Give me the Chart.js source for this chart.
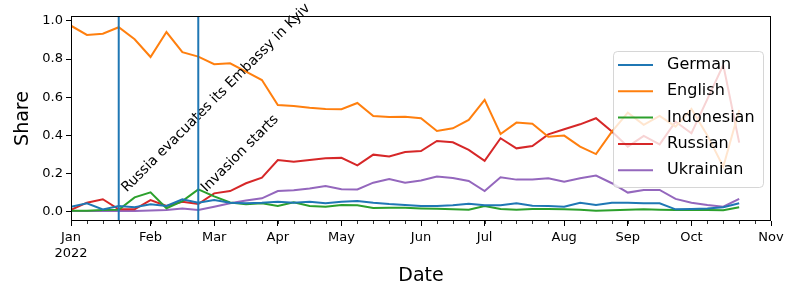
<!DOCTYPE html>
<html>
<head>
<meta charset="utf-8">
<script src="https://cdn.jsdelivr.net/npm/chart.js@4.4.0/dist/chart.umd.min.js"></script>
<style>
  html, body { margin: 0; padding: 0; background: #fff; }
</style>
</head>
<body>
<canvas id="chart" width="800" height="300"></canvas>
<script>
// weekly periods, week 0 is the one holding Jan 1 2022 (Mon 2021-12-27)
const firstWeek = '2021-12-27'
const axisEnd = '2022-11-01'

const monthStarts = ['2022-01-01', '2022-02-01', '2022-03-01', '2022-04-01', '2022-05-01', '2022-06-01',
  '2022-07-01', '2022-08-01', '2022-09-01', '2022-10-01', '2022-11-01']
const monthLabels = [['Jan', '2022'], 'Feb', 'Mar', 'Apr', 'May', 'Jun', 'Jul', 'Aug', 'Sep', 'Oct', 'Nov']
const yTicks = [0, 0.2, 0.4, 0.6, 0.8, 1.0]

const german = [0.026, 0.044, 0.012, 0.030, 0.023, 0.039, 0.030, 0.065, 0.047, 0.061,
  0.047, 0.044, 0.047, 0.052, 0.047, 0.052, 0.044, 0.052, 0.056, 0.047,
  0.040, 0.035, 0.030, 0.030, 0.033, 0.042, 0.033, 0.033, 0.044, 0.031,
  0.030, 0.026, 0.047, 0.035, 0.047, 0.047, 0.044, 0.044, 0.012, 0.014,
  0.016, 0.023, 0.044]
const english = [0.975, 0.927, 0.933, 0.967, 0.904, 0.811, 0.942, 0.836, 0.813, 0.773,
  0.778, 0.734, 0.690, 0.559, 0.554, 0.545, 0.538, 0.537, 0.570, 0.502,
  0.497, 0.498, 0.490, 0.423, 0.437, 0.481, 0.586, 0.407, 0.467, 0.461,
  0.393, 0.399, 0.341, 0.302, 0.420, 0.519, 0.455, 0.502, 0.446, 0.539,
  0.400, 0.236, 0.533]
const indonesian = [0.005, 0.005, 0.009, 0.010, 0.075, 0.101, 0.018, 0.055, 0.117, 0.080,
  0.048, 0.039, 0.044, 0.030, 0.049, 0.030, 0.026, 0.035, 0.033, 0.019,
  0.020, 0.020, 0.017, 0.015, 0.012, 0.010, 0.030, 0.014, 0.010, 0.014,
  0.014, 0.012, 0.010, 0.005, 0.007, 0.010, 0.012, 0.010, 0.009, 0.009,
  0.009, 0.008, 0.023]
const russian = [0.009, 0.047, 0.065, 0.012, 0.012, 0.061, 0.030, 0.052, 0.040, 0.096,
  0.108, 0.149, 0.178, 0.271, 0.262, 0.271, 0.280, 0.282, 0.243, 0.299,
  0.289, 0.313, 0.318, 0.371, 0.364, 0.324, 0.266, 0.385, 0.332, 0.344,
  0.405, 0.432, 0.458, 0.490, 0.420, 0.341, 0.397, 0.353, 0.472, 0.411,
  0.590, 0.769, 0.362]
const ukrainian = [0.004, 0.004, 0.004, 0.004, 0.004, 0.006, 0.009, 0.016, 0.009, 0.026,
  0.044, 0.058, 0.070, 0.108, 0.112, 0.121, 0.135, 0.117, 0.116, 0.152,
  0.171, 0.152, 0.163, 0.184, 0.177, 0.161, 0.108, 0.180, 0.168, 0.168,
  0.175, 0.157, 0.175, 0.189, 0.149, 0.100, 0.114, 0.114, 0.067, 0.047,
  0.035, 0.026, 0.067]

const events = [
  ['2022-01-18', 'Russia evacuates its Embassy in Kyiv'],
  ['2022-02-24', 'Invasion starts']
]
const eventTextAt = 0.1

const series = [
  ['German', german, '#1f77b4'],
  ['English', english, '#ff7f0e'],
  ['Indonesian', indonesian, '#2ca02c'],
  ['Russian', russian, '#d62728'],
  ['Ukrainian', ukrainian, '#9467bd']
]

const weekIndex = d => Math.floor((Date.parse(d) - Date.parse(firstWeek)) / (7 * 864e5))
const xMax = weekIndex(axisEnd)

Chart.defaults.font.family = 'DejaVu Sans'
Chart.defaults.color = '#000'

const extras = {
  id: 'extras',
  afterDatasetsDraw(chart) {
    const ctx = chart.ctx
    const { left, right, top, bottom } = chart.chartArea
    const xs = chart.scales.x
    const ys = chart.scales.y
    ctx.save()

    // event lines + rotated notes
    events.forEach(([date, text]) => {
      const px = xs.getPixelForValue(weekIndex(date))
      ctx.strokeStyle = '#1f77b4'
      ctx.lineWidth = 2
      ctx.beginPath()
      ctx.moveTo(px, top)
      ctx.lineTo(px, bottom)
      ctx.stroke()

      ctx.save()
      ctx.translate(px + 8, ys.getPixelForValue(eventTextAt))
      ctx.rotate(-Math.PI / 4)
      ctx.fillStyle = '#000'
      ctx.font = '14px "DejaVu Sans"'
      ctx.textBaseline = 'alphabetic'
      ctx.textAlign = 'left'
      ctx.fillText(text, 0, 0)
      ctx.restore()
    })

    // frame
    ctx.strokeStyle = '#000'
    ctx.lineWidth = 1
    ctx.strokeRect(left + 0.5, top + 0.5, right - left - 1, bottom - top - 1)

    // minor week ticks
    ctx.lineWidth = 0.8
    for (let w = 0; w <= xMax; w++) {
      const px = Math.round(xs.getPixelForValue(w)) + 0.5
      ctx.beginPath()
      ctx.moveTo(px, bottom)
      ctx.lineTo(px, bottom + 3)
      ctx.stroke()
    }

    // legend
    const bw = 150, bh = 136
    const bx = right - 8 - bw, by = top + 35
    ctx.beginPath()
    ctx.roundRect(bx + 0.5, by + 0.5, bw, bh, 4)
    ctx.fillStyle = 'rgba(255,255,255,0.8)'
    ctx.fill()
    ctx.strokeStyle = 'rgba(204,204,204,0.8)'
    ctx.lineWidth = 1
    ctx.stroke()
    ctx.font = '16px "DejaVu Sans"'
    ctx.textBaseline = 'middle'
    chart.data.datasets.forEach((ds, i) => {
      const ry = by + 14 + i * 26.3
      ctx.strokeStyle = ds.borderColor
      ctx.lineWidth = 2
      ctx.beginPath()
      ctx.moveTo(bx + 5, ry)
      ctx.lineTo(bx + 40, ry)
      ctx.stroke()
      ctx.fillStyle = '#000'
      ctx.fillText(ds.label, bx + 54, ry)
    })
    ctx.restore()
  }
}

new Chart(document.getElementById('chart'), {
  type: 'line',
  data: {
    datasets: series.map(([label, vals, color]) => ({
      label: label,
      data: vals.map((v, i) => ({ x: i, y: v })),
      borderColor: color,
      backgroundColor: color,
      borderWidth: 2,
      pointRadius: 0,
      tension: 0
    }))
  },
  options: {
    responsive: false,
    animation: false,
    devicePixelRatio: 1,
    layout: { padding: { top: 16, right: 29, left: 0, bottom: 0 } },
    plugins: {
      legend: { display: false },
      tooltip: { enabled: false }
    },
    scales: {
      x: {
        type: 'linear',
        min: 0,
        max: xMax,
        afterBuildTicks: s => { s.ticks = monthStarts.map(d => ({ value: weekIndex(d) })) },
        afterFit: s => { s.height = 79 },
        ticks: {
          callback: (v, i) => monthLabels[i],
          font: { size: 13 },
          maxRotation: 0,
          autoSkip: false,
          padding: 4
        },
        grid: { drawOnChartArea: false, tickLength: 5, tickColor: '#000', tickWidth: 1 },
        border: { display: false },
        title: { display: true, text: 'Date', font: { size: 19 }, padding: { top: 0, bottom: 13 } }
      },
      y: {
        min: -0.049,
        max: 1.026,
        afterBuildTicks: s => { s.ticks = yTicks.map(v => ({ value: v })) },
        afterFit: s => { s.width = 71 },
        ticks: {
          callback: v => v.toFixed(1),
          font: { size: 13 },
          padding: 3
        },
        grid: { drawOnChartArea: false, tickLength: 5, tickColor: '#000', tickWidth: 1 },
        border: { display: false },
        title: { display: true, text: 'Share', font: { size: 19 }, padding: { top: 12, bottom: 0 } }
      }
    }
  },
  plugins: [extras]
})
</script>
</body>
</html>
